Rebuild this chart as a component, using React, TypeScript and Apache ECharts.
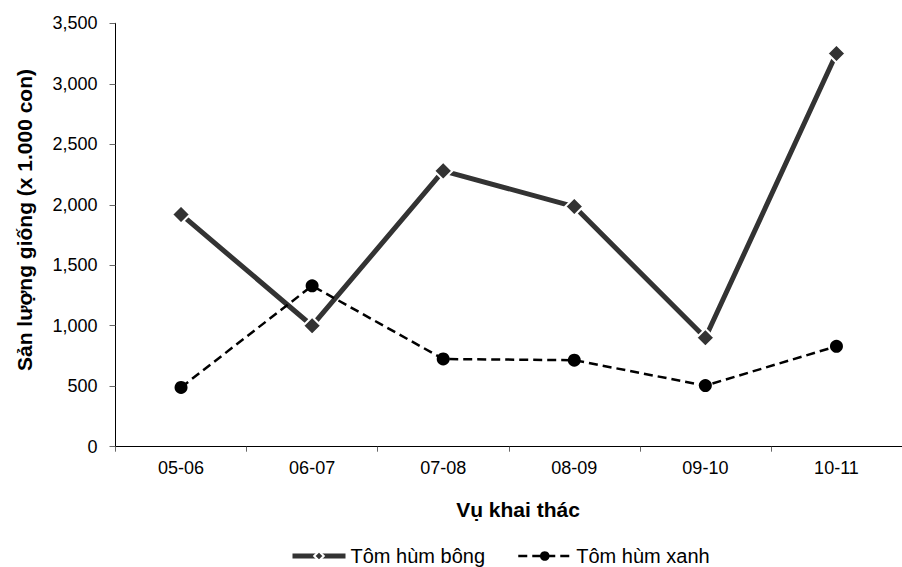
import React, { useEffect, useRef } from "react";
import * as echarts from "echarts";

const categories = ["05-06", "06-07", "07-08", "08-09", "09-10", "10-11"];
const tomHumBong = [1920, 1000, 2280, 1985, 900, 3250];
const tomHumXanh = [490, 1330, 725, 715, 505, 830];
const seriesNames = ["Tôm hùm bông", "Tôm hùm xanh"];
const xAxisTitle = "Vụ khai thác";
const yAxisTitle = "Sản lượng giống (x 1.000 con)";

const FONT = '"Liberation Sans", Arial, sans-serif';

export default function App() {
  const ref = useRef<HTMLDivElement>(null);
  useEffect(() => {
    document.body.style.margin = "0";
    const chart = echarts.init(ref.current!, null, { renderer: "svg" });
    chart.setOption({
      animation: false,
      backgroundColor: "#fff",
      textStyle: { fontFamily: FONT },
      grid: { left: 115.5, top: 23.3, width: 798, height: 423.4, containLabel: false },
      xAxis: {
        type: "category",
        data: categories,
        boundaryGap: true,
        axisLine: { lineStyle: { color: "#000", width: 1 } },
        axisTick: { show: true, length: 5, inside: false, lineStyle: { color: "#666" } },
        axisLabel: { color: "#000", fontSize: 18, fontFamily: FONT, margin: 12 },
        splitLine: { show: false },
      },
      yAxis: {
        type: "value",
        min: 0,
        max: 3500,
        interval: 500,
        axisLine: { show: true, lineStyle: { color: "#000", width: 1 } },
        axisTick: { show: true, length: 6, lineStyle: { color: "#666" } },
        axisLabel: {
          color: "#000",
          fontSize: 18,
          fontFamily: FONT,
          margin: 18,
          formatter: (v: number) => v.toLocaleString("en-US"),
        },
        splitLine: { show: false },
      },
      legend: {
        left: 290,
        top: 546,
        padding: 0,
        itemWidth: 53,
        itemHeight: 12,
        itemGap: 32,
        textStyle: { fontSize: 20, color: "#000", fontFamily: FONT },
        data: [
          { name: seriesNames[0], lineStyle: { width: 5, color: "#333" } },
          { name: seriesNames[1], lineStyle: { width: 2.5, color: "#000" } },
        ],
      },
      series: [
        {
          name: seriesNames[0],
          type: "line",
          data: tomHumBong,
          symbol: "diamond",
          symbolSize: 18,
          lineStyle: { color: "#333", width: 5 },
          itemStyle: { color: "#333", borderColor: "#fff", borderWidth: 2 },
          z: 2,
        },
        {
          name: seriesNames[1],
          type: "line",
          data: tomHumXanh,
          symbol: "circle",
          symbolSize: 13,
          lineStyle: { color: "#000", width: 2.5, type: [9, 5] },
          itemStyle: { color: "#000", borderWidth: 0 },
          z: 3,
        },
      ],
      graphic: [
        {
          type: "text",
          x: 518,
          y: 509,
          style: {
            text: xAxisTitle,
            font: `bold 21px ${FONT}`,
            fill: "#000",
            align: "center",
            verticalAlign: "middle",
          },
        },
        {
          type: "text",
          x: 24,
          y: 220,
          rotation: Math.PI / 2,
          style: {
            text: yAxisTitle,
            font: `bold 21px ${FONT}`,
            fill: "#000",
            align: "center",
            verticalAlign: "middle",
          },
        },
      ],
    });
    return () => chart.dispose();
  }, []);
  return <div ref={ref} style={{ width: 902, height: 567 }} />;
}
